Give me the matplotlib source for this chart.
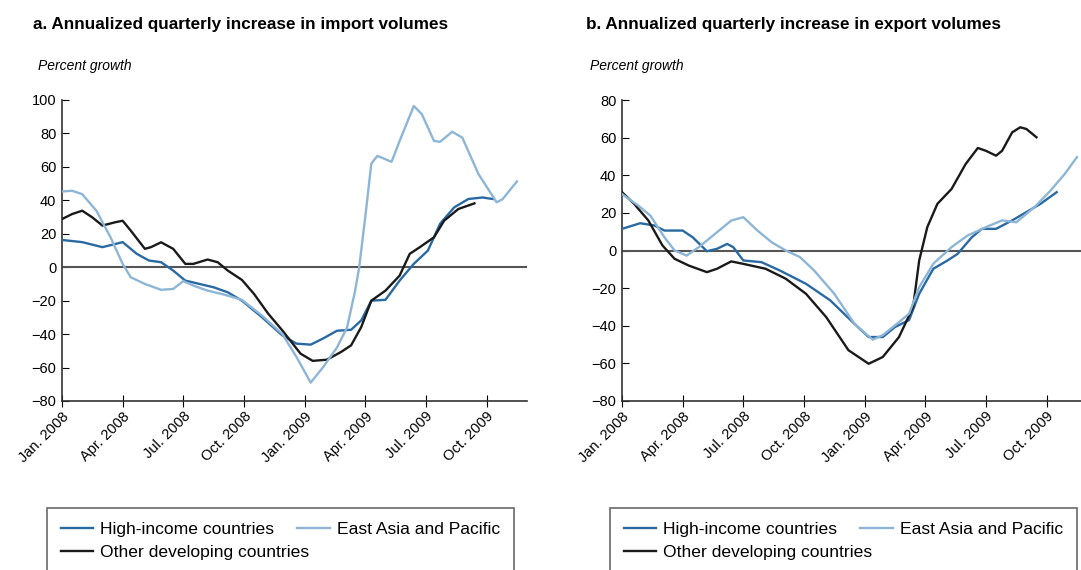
import matplotlib
matplotlib.use("Agg")
import matplotlib.pyplot as plt

plt.rcParams['font.family'] = ['Liberation Sans', 'DejaVu Sans']

# months since Jan. 2008
tick_pos = [0, 3, 6, 9, 12, 15, 18, 21]
tick_labels = ["Jan. 2008", "Apr. 2008", "Jul. 2008", "Oct. 2008",
               "Jan. 2009", "Apr. 2009", "Jul. 2009", "Oct. 2009"]

# panel a: imports
imp_high_x = [0, 1, 2, 3, 3.7, 4.3, 4.9, 5.5, 6.1, 6.8, 7.5, 8.2, 8.9, 9.9, 10.9,
              11.6, 12.3, 12.9, 13.6, 14.3, 14.8, 15.3, 16, 16.7, 17.4, 18.1,
              18.7, 19.4, 20.1, 20.8, 21.3]
imp_high_y = [16.3, 15, 12, 15, 8, 4, 3, -2, -8, -10, -12, -15, -20, -30, -40.8,
              -45.7, -46.3, -42.7, -38, -37.4, -31.8, -20, -19.5, -8, 2, 10,
              26, 35.8, 40.8, 41.7, 40.8]

imp_eap_x = [0, 0.5, 1, 1.7, 2.4, 3, 3.4, 4.1, 4.9, 5.5, 6, 6.5, 7.2, 8, 8.9,
             9.9, 10.9, 11.6, 12.3, 12.9, 13.6, 14.1, 14.5, 14.7, 15, 15.3,
             15.6, 16.3, 16.7, 17.4, 17.8, 18.4, 18.7, 19.3, 19.8, 20.6, 21.5,
             21.8, 22.5]
imp_eap_y = [45.3, 45.7, 43.7, 33.8, 17.9, 2, -6, -10, -13.5, -13, -8.3, -11,
             -14, -16.3, -19.5, -29, -40, -53.7, -69, -60, -48, -36, -14, 0, 30,
             62, 66.6, 63, 75.5, 96.4, 91.5, 75.5, 75, 81, 77.5, 55.7, 38.8,
             40.8, 51.3]

imp_other_x = [0, 0.5, 1, 1.5, 2, 2.6, 3, 3.4, 4.1, 4.4, 4.9, 5.5, 6.1, 6.5,
               7.2, 7.7, 8.2, 8.9, 9.5, 10.2, 10.9, 11.8, 12.4, 13.1, 13.8,
               14.3, 14.8, 15.3, 16, 16.7, 17.2, 17.7, 18.4, 18.9, 19.6, 20.4]
imp_other_y = [28.8, 31.8, 33.8, 29.8, 24.9, 26.8, 27.8, 21.9, 11, 12, 14.9, 11,
               2, 2, 4.6, 3, -2, -7.6, -16, -27.8, -37.8, -51.7, -56, -55.3,
               -50.7, -46.7, -35.8, -20, -14, -5, 8, 12, 17.9, 27.8, 34.8, 38.2]

# panel b: exports
exp_high_x = [0, 0.9, 1.6, 2.1, 3, 3.5, 4.2, 4.7, 5.2, 5.5, 6, 6.9, 7.8, 9.1,
              10.3, 11.5, 12.2, 12.9, 13.5, 14.2, 14.7, 15.4, 16.1, 16.6, 17.3,
              17.8, 18.5, 19.3, 20, 20.7, 21.5]
exp_high_y = [11.5, 14.5, 13.3, 10.6, 10.6, 7, -0.4, 0.9, 3.5, 1.8, -5.3, -6.2,
              -10.6, -17.7, -26.5, -39, -46, -46, -40.7, -37, -23, -9.7, -5.3,
              -1.8, 7, 11.5, 11.5, 16, 20.4, 24.8, 31]

exp_eap_x = [0, 0.8, 1.4, 2.1, 2.6, 3.2, 3.8, 4.7, 5.4, 6, 6.7, 7.4, 8.1, 8.8,
             9.5, 10.5, 11.5, 12.4, 12.9, 13.5, 14.2, 14.7, 15.4, 16.3, 17.1,
             18, 18.8, 19.5, 20.4, 21.2, 21.9, 22.5]
exp_eap_y = [30, 23.9, 18.6, 7, 0, -2.7, 1.8, 9.7, 15.9, 17.7, 10.6, 4.4, 0,
             -3.5, -10.6, -23, -39, -47.4, -45, -39.8, -33.6, -19.5, -7, 1.8, 8,
             12.4, 16, 15, 23, 31.9, 40.7, 49.6]

exp_other_x = [0, 0.6, 1.3, 2, 2.6, 3.3, 4.2, 4.7, 5.4, 6, 7.1, 8.1, 9.1, 10.1,
               11.2, 12.2, 12.9, 13.7, 14.4, 14.7, 15.1, 15.6, 16.3, 17, 17.6,
               18, 18.5, 18.8, 19.3, 19.7, 20, 20.5]
exp_other_y = [31, 24.8, 16, 2.7, -4.4, -8, -11.5, -9.7, -5.8, -7.1, -9.7, -15,
               -23, -35.4, -53, -60.2, -56.6, -46, -30, -5.3, 12.4, 24.8, 32.7,
               46, 54.5, 53, 50.4, 53, 62.8, 65.5, 64.6, 60.2]

names = ["High-income countries", "Other developing countries",
         "East Asia and Pacific"]
colors = ["#2a6aa3", "#1a1a1a", "#8db6d6"]


def draw_panel(ax, series, ymin, ymax, step):
    for (xs, ys), name, col in zip(series, names, colors):
        ax.plot(xs, ys, color=col, lw=1.7, label=name, zorder=3)
    ax.axhline(0, color="#555555", lw=1.5, zorder=2)
    ax.set_xlim(0, 23)
    ax.set_ylim(ymin, ymax)
    ax.set_yticks(range(ymin, ymax + 1, step))
    ax.set_xticks(tick_pos)
    ax.set_xticklabels(tick_labels, rotation=45, ha="right",
                       rotation_mode="anchor", fontsize=10.5)
    ax.tick_params(axis="y", direction="in", length=5, labelsize=10.5, pad=4)
    ax.tick_params(axis="x", direction="inout", length=8, pad=2)
    for s in ["top", "right"]:
        ax.spines[s].set_visible(False)
    for s in ["left", "bottom"]:
        ax.spines[s].set_color("#333333")
        ax.spines[s].set_linewidth(1.2)
    ax.patch.set_alpha(0)


fig = plt.figure(figsize=(10.81, 5.70), dpi=100)
ax1 = fig.add_axes([62 / 1081, 1 - 401 / 570, 465 / 1081, 301 / 570])
ax2 = fig.add_axes([622 / 1081, 1 - 401 / 570, 465 / 1081, 301 / 570])

draw_panel(ax1, [(imp_high_x, imp_high_y), (imp_other_x, imp_other_y),
                 (imp_eap_x, imp_eap_y)], -80, 100, 20)
draw_panel(ax2, [(exp_high_x, exp_high_y), (exp_other_x, exp_other_y),
                 (exp_eap_x, exp_eap_y)], -80, 80, 20)

fig.text(33 / 1081, 1 - 25 / 570, "a. Annualized quarterly increase in import volumes",
         fontsize=12.3, fontweight="bold", va="center")
fig.text(586 / 1081, 1 - 25 / 570, "b. Annualized quarterly increase in export volumes",
         fontsize=12.3, fontweight="bold", va="center")
fig.text(38 / 1081, 1 - 66 / 570, "Percent growth", fontsize=10, style="italic",
         va="center")
fig.text(590 / 1081, 1 - 66 / 570, "Percent growth", fontsize=10, style="italic",
         va="center")

for ax, x0 in [(ax1, 47), (ax2, 610)]:
    h, l = ax.get_legend_handles_labels()
    leg = fig.legend(h, l, ncol=2, loc="upper left",
                     bbox_to_anchor=(x0 / 1081, 1 - 508 / 570),
                     fontsize=12.6, frameon=True, fancybox=False,
                     handlelength=1.85, handletextpad=0.4, borderpad=0.8,
                     borderaxespad=0, labelspacing=0.45, columnspacing=-0.7)
    leg.get_frame().set_edgecolor("#444444")
    leg.get_frame().set_linewidth(1.2)

fig.savefig("out.png", dpi=100)
